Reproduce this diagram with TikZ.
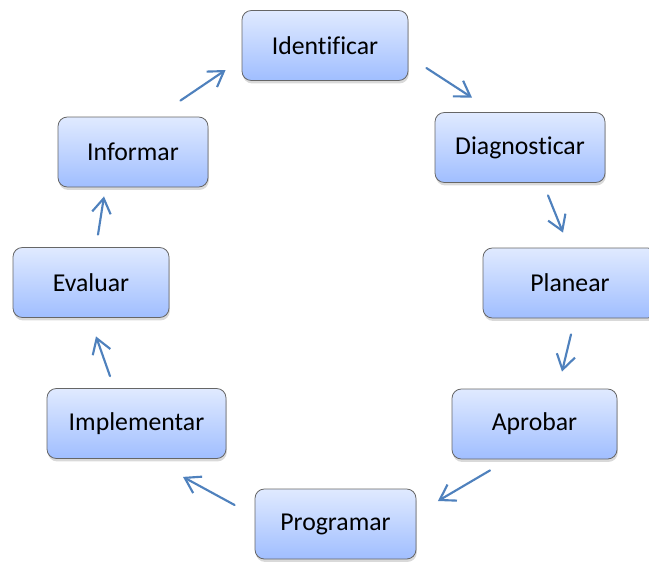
\documentclass[tikz,border=0pt]{standalone}
\usepackage{fontspec}
\setmainfont{Carlito}[Ligatures={NoCommon}, RawFeature={-liga}]
\usetikzlibrary{
arrows.meta,
calc,
shadows
}
\definecolor{boxtop}{RGB}{224,234,255}
\definecolor{boxbottom}{RGB}{160,190,255}
\definecolor{flowblue}{RGB}{79,129,189}
\tikzset{>={Straight Barb[length=11pt,width=14pt]}}

\begin{document}
\begin{tikzpicture}[x=0.75pt, y=-0.75pt, font=\fontsize{19.3}{23}\selectfont,
	stage/.style={draw=black!60, line width=0.6pt, rounded corners=7pt, top color=boxtop, bottom color=boxbottom, minimum height=52.5pt, inner xsep=2pt, drop shadow={shadow xshift=0.6pt, shadow yshift=-2.2pt, opacity=0.3}},
	flow/.style={->, draw=flowblue, line width=1.6pt, line cap=round}]
		\path[use as bounding box, clip] (0,0) rectangle (649,561);
		\node[stage, minimum width=124.5pt] (identificar) at (325,45.5) {Identificar};
		\node[stage, minimum width=127.5pt] (diagnosticar) at (520,147.5) {Diagnosticar};
		\node[stage, minimum width=130.5pt] (planear) at (570,283) {Planear};
		\node[stage, minimum width=123.75pt] (aprobar) at (534.5,424) {Aprobar};
		\node[stage, minimum width=120.75pt] (programar) at (335.5,524) {Programar};
		\node[stage, minimum width=134.25pt] (implementar) at (136.5,423.5) {Implementar};
		\node[stage, minimum width=117pt] (evaluar) at (91,282.5) {Evaluar};
		\node[stage, minimum width=112.5pt] (informar) at (133,152) {Informar};
		
		\draw[flow] ($(informar.north east)+(-28,-16)$) -- ($(identificar.west)+(-16,24.5)$);
		\draw[flow] ($(identificar.east)+(18,22.5)$) -- ($(diagnosticar.north)+(-48,-14.5)$);
		\draw[flow] ($(diagnosticar.south)+(28,12.5)$) -- ($(planear.north)+(-7,-15)$);
		\draw[flow] ($(planear.south)+(1,16)$) -- ($(aprobar.north)+(27.5,-17)$);
		\draw[flow] ($(aprobar.south)+(-44.5,11)$) -- ($(programar.east)+(21.5,-23)$);
		\draw[flow] ($(programar.west)+(-20,-19)$) -- ($(implementar.south)+(46.5,18)$);
		\draw[flow] ($(implementar.north)+(-26.5,-12)$) -- ($(evaluar.south)+(5,18.5)$);
		\draw[flow] ($(evaluar.north)+(7,-12.5)$) -- ($(informar.south)+(-29,9)$);
	\end{tikzpicture}
\end{document}
